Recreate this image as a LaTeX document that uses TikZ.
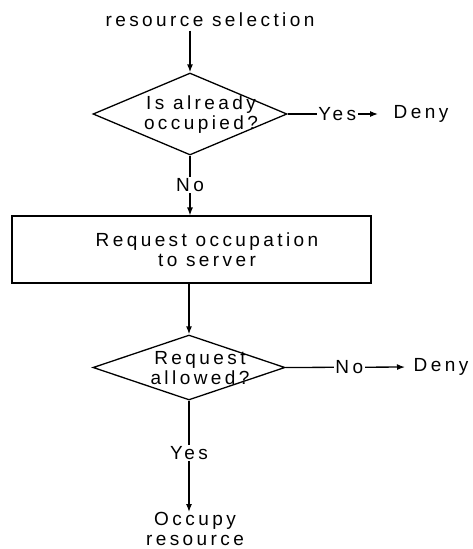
\documentclass[tikz,border=0pt]{standalone}
\usepackage{fontspec}
\setmainfont{Liberation Sans}[LetterSpace=18]
\usetikzlibrary{shapes.geometric,arrows.meta}
\begin{document}
\begin{tikzpicture}[x=1pt,y=-1pt,
  font=\fontsize{19}{20}\selectfont,
  line width=1.3pt,
  txt/.style={inner sep=0pt, align=center},
  lbl/.style={fill=white, inner sep=1.5pt},
  decision/.style={draw, diamond, inner sep=0pt},
  procbox/.style={draw, rectangle, inner sep=0pt, line width=1.1pt},
  flow/.style={-{Latex[length=8pt,width=6pt]}}]
  \useasboundingbox (0,0) rectangle (472,549);

  % start
  \node[txt] (start) at (210,20) {resource selection};

  % first decision
  \node[decision, minimum width=194pt, minimum height=82pt] (d1) at (190,114) {};
  \node[txt] (d1t) at (201,115) {Is already\\occupied?};
  \node[txt, anchor=west] (deny1) at (393,114) {Deny};

  % request box
  \node[procbox, minimum width=359pt, minimum height=67pt] (req) at (191.5,249.5) {};
  \node[txt] (reqt) at (207,250) {Request occupation\\to server};

  % second decision
  \node[decision, minimum width=192pt, minimum height=65pt] (d2) at (189,367.5) {};
  \node[txt] (d2t) at (200,368) {Request\\allowed?};
  \node[txt, anchor=west] (deny2) at (413,367) {Deny};

  % end
  \node[txt, anchor=north] (occ) at (195,512) {Occupy\\resource};

  % connectors
  \draw[flow] (d1.north |- start.south) ++(0,3) -- (d1.north);
  \draw[flow, shorten >=15pt] (d1.east) -- node[lbl, pos=0.47] {Yes} (deny1.west);
  \draw[flow] (d1.south) -- node[lbl, pos=0.49] {No} (req.north -| d1.south);
  \draw[flow] (req.south -| d2.north) -- (d2.north);
  \draw[flow, shorten >=8pt] (d2.east) -- node[lbl, pos=0.5] {No} (deny2.west);
  \draw[flow] (d2.south) -- node[lbl, pos=0.47] {Yes} (d2.south |- occ.north);
\end{tikzpicture}
\end{document}
